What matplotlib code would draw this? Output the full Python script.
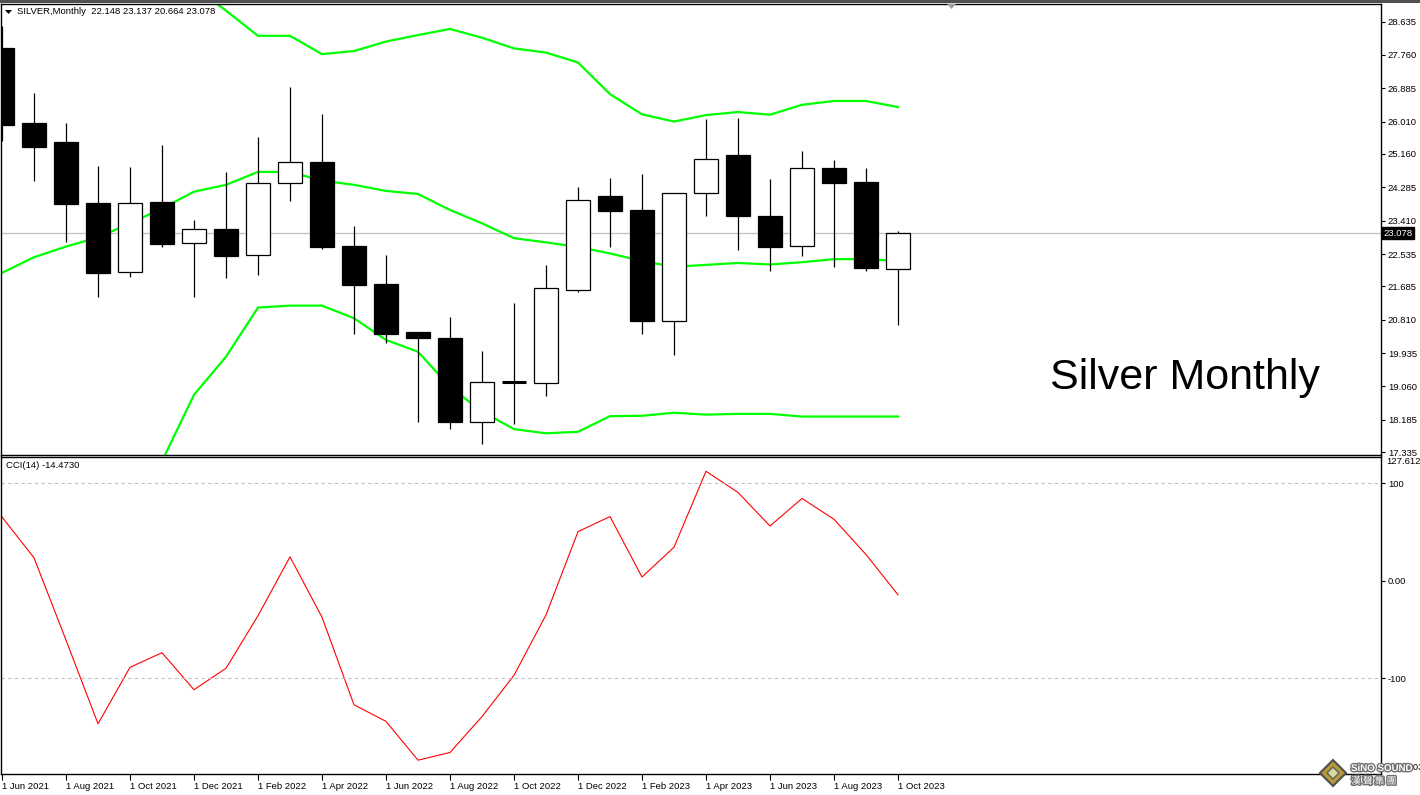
import matplotlib
matplotlib.use("Agg")  # no display
import matplotlib.pyplot as plt
from matplotlib.patches import Rectangle, Polygon
import matplotlib.patheffects as pe

plt.rcParams['font.family'] = ['Liberation Sans', 'DejaVu Sans']

# Monthly silver candles, Jun 2021 .. Oct 2023
opens = [27.94, 25.97, 25.47, 23.87, 22.05, 23.89, 22.82, 23.18, 22.50, 24.39,
         24.95, 22.75, 21.75, 20.49, 20.33, 18.12, 19.17, 19.16, 21.60, 24.07,
         23.68, 20.77, 24.13, 25.12, 23.52, 22.74, 24.78, 24.42, 22.148]
highs = [28.52, 26.76, 25.97, 24.84, 24.82, 25.39, 23.43, 24.69, 25.60, 26.92,
         26.21, 23.27, 22.51, 20.49, 20.88, 20.00, 21.25, 22.25, 24.29, 24.53,
         24.63, 24.13, 26.08, 26.11, 24.50, 25.24, 25.00, 24.79, 23.137]
lows = [25.50, 24.46, 22.86, 21.41, 21.94, 22.73, 21.41, 21.91, 21.99, 23.93,
        22.66, 20.44, 20.21, 18.13, 17.93, 17.56, 18.08, 18.81, 21.54, 22.73,
        20.43, 19.89, 23.54, 22.65, 22.10, 22.49, 22.19, 22.10, 20.664]
closes = [25.93, 25.35, 23.85, 22.04, 23.87, 22.81, 23.18, 22.49, 24.39, 24.95,
          22.73, 21.73, 20.44, 20.34, 18.12, 19.18, 19.17, 21.63, 23.94, 23.67,
          20.77, 24.13, 25.02, 23.54, 22.73, 24.78, 24.41, 22.18, 23.078]

# Bollinger bands
bb_upper = [30.50, 30.60, 30.50, 30.30, 30.10, 29.85, 29.54, 28.92, 28.26, 28.26,
            27.78, 27.86, 28.11, 28.28, 28.44, 28.21, 27.93, 27.82, 27.56, 26.73,
            26.20, 26.01, 26.18, 26.26, 26.19, 26.45, 26.55, 26.55, 26.39]
bb_mid = [22.04, 22.45, 22.73, 22.97, 23.34, 23.73, 24.17, 24.35, 24.69, 24.69,
          24.46, 24.35, 24.19, 24.11, 23.69, 23.34, 22.95, 22.84, 22.72, 22.55,
          22.35, 22.20, 22.25, 22.30, 22.26, 22.32, 22.40, 22.40, 22.35]
bb_lower = [12.00, 12.80, 13.50, 14.50, 15.50, 17.10, 18.84, 19.84, 21.13, 21.18,
            21.18, 20.85, 20.28, 19.97, 19.05, 18.40, 17.94, 17.83, 17.87, 18.28,
            18.29, 18.37, 18.32, 18.34, 18.34, 18.27, 18.27, 18.27, 18.27]

# CCI(14)
cci = [65.5, 23.5, -61, -147, -89, -74, -112, -90, -36, 24.5,
       -37.5, -127.5, -144.5, -184.4, -176.5, -139.6, -97.2, -35.2, 50.4, 65.9,
       3.8, 34.4, 112.4, 90.7, 56.2, 84.5, 63.1, 26.9, -14.473]

date_labels = ["1 Jun 2021", "1 Aug 2021", "1 Oct 2021", "1 Dec 2021", "1 Feb 2022",
               "1 Apr 2022", "1 Jun 2022", "1 Aug 2022", "1 Oct 2022", "1 Dec 2022",
               "1 Feb 2023", "1 Apr 2023", "1 Jun 2023", "1 Aug 2023", "1 Oct 2023"]
price_ticks = [28.635, 27.760, 26.885, 26.010, 25.160, 24.285, 23.410, 22.535,
               21.685, 20.810, 19.935, 19.060, 18.185, 17.335]
cci_ticks = [100, 0, -100]
cci_tick_labels = ["100", "0.00", "-100"]

W, H = 1420, 795
fig = plt.figure(figsize=(W / 100, H / 100), dpi=100)

def frac(px_left, px_top, px_right, px_bottom):
    return [px_left / W, 1 - px_bottom / H, (px_right - px_left) / W, (px_bottom - px_top) / H]

ax = fig.add_axes(frac(1, 3.5, 1381, 454.5))
ax2 = fig.add_axes(frac(1, 456.5, 1381, 774))

x = list(range(len(closes)))
xlim = (-1 / 32, 1379 / 32)

# --- price pane
ax.plot(x, bb_upper, color='#00ff00', lw=1.6, zorder=2)
ax.plot(x, bb_mid, color='#00ff00', lw=1.6, zorder=2)
ax.plot(x, bb_lower, color='#00ff00', lw=1.6, zorder=2)
ax.axhline(closes[-1], color='#c0c0c0', lw=0.9, zorder=1)

w = 0.74
for i, (o, h, l, c) in enumerate(zip(opens, highs, lows, closes)):
    ax.vlines(i, l, h, color='black', lw=0.9, zorder=3)
    if abs(c - o) < 0.02:
        ax.hlines(o, i - w / 2, i + w / 2, color='black', lw=2.2, zorder=4)
    elif c > o:
        ax.add_patch(Rectangle((i - w / 2, o), w, c - o, facecolor='white',
                               edgecolor='black', lw=0.9, zorder=4))
    else:
        ax.add_patch(Rectangle((i - w / 2, c), w, o - c, facecolor='black',
                               edgecolor='black', lw=0.9, zorder=4))

ax.set_xlim(*xlim)
ax.set_ylim(17.274, 29.108)
ax.set_xticks([])
ax.yaxis.tick_right()
ax.set_yticks(price_ticks)
ax.set_yticklabels([f"{v:.3f}" for v in price_ticks])
ax.tick_params(axis='y', length=3, width=0.8, pad=2, labelsize=6.8, colors='black')
for s in ax.spines.values():
    s.set_linewidth(1.0)
    s.set_color('black')

ax.text(1.0015, closes[-1], f"{closes[-1]:.3f}", transform=ax.get_yaxis_transform(),
        color='white', fontsize=6.8, va='center', ha='left',
        bbox=dict(boxstyle='square,pad=0.15', facecolor='black', edgecolor='black'),
        zorder=10, clip_on=False)

# --- CCI pane
ax2.plot(x, cci, color='#ff0000', lw=0.8)
for lvl in (100, -100):
    ax2.axhline(lvl, color='#c0c0c0', lw=0.8, ls=(0, (3, 3)))
ax2.set_xlim(*xlim)
ax2.set_ylim(-198.6, 127.61)
ax2.yaxis.tick_right()
ax2.set_yticks(cci_ticks)
ax2.set_yticklabels(cci_tick_labels)
ax2.tick_params(axis='y', length=3, width=0.8, pad=2, labelsize=6.8, colors='black')
ax2.set_xticks(range(0, len(closes), 2))
ax2.set_xticklabels(date_labels)
ax2.tick_params(axis='x', length=4, width=0.8, pad=1.5, labelsize=6.8)
for lbl in ax2.get_xticklabels():
    lbl.set_horizontalalignment('left')
for s in ax2.spines.values():
    s.set_linewidth(1.0)
    s.set_color('black')

ax2.text(1.004, 0.985, "127.6129", transform=ax2.transAxes, fontsize=6.8,
         va='center', ha='left', clip_on=False)
ax2.text(1.004, 0.02, "-198.6039", transform=ax2.transAxes, fontsize=6.8,
         va='center', ha='left', clip_on=False)

# --- header texts
fig.add_artist(Rectangle((0, 1 - 2.5 / H), 1, 2.5 / H, transform=fig.transFigure,
                         facecolor='#505050', edgecolor='none'))
fig.add_artist(Polygon([(947 / W, 1 - 4 / H), (956 / W, 1 - 4 / H), (951.5 / W, 1 - 9 / H)],
                       closed=True, transform=fig.transFigure, facecolor='#a0a0a0',
                       edgecolor='none'))
fig.add_artist(Polygon([(5 / W, 1 - 10 / H), (12 / W, 1 - 10 / H), (8.5 / W, 1 - 14 / H)],
                       closed=True, transform=fig.transFigure, facecolor='black',
                       edgecolor='none'))
fig.text(17 / W, 1 - 12 / H, "SILVER,Monthly  22.148 23.137 20.664 23.078",
         fontsize=6.8, va='center', ha='left')
fig.text(6 / W, 1 - 466 / H, "CCI(14) -14.4730", fontsize=6.8, va='center', ha='left')
fig.text(1050 / W, 1 - 378 / H, "Silver Monthly", fontsize=31, va='center', ha='left')

# --- watermark logo, bottom right
cx, cy, r = 1333, 773, 13
fig.add_artist(Polygon([((cx - r) / W, 1 - cy / H), (cx / W, 1 - (cy - r) / H),
                        ((cx + r) / W, 1 - cy / H), (cx / W, 1 - (cy + r) / H)],
                       closed=True, transform=fig.transFigure, facecolor='#b89a3a',
                       edgecolor='#505050', lw=1.5, zorder=20))
fig.add_artist(Polygon([((cx - 6) / W, 1 - cy / H), (cx / W, 1 - (cy - 6) / H),
                        ((cx + 6) / W, 1 - cy / H), (cx / W, 1 - (cy + 6) / H)],
                       closed=True, transform=fig.transFigure, facecolor='#d8d8a0',
                       edgecolor='#606060', lw=1, zorder=21))
halo = [pe.withStroke(linewidth=2, foreground='#707070')]
fig.text(1351 / W, 1 - 768 / H, "SiNO SOUND", fontsize=7, fontweight='bold',
         color='white', va='center', ha='left', path_effects=halo, zorder=22)
fig.text(1351 / W, 1 - 781 / H, "漢 聲 集 團", fontsize=7, color='white',
         family=['Noto Sans CJK TC', 'DejaVu Sans'], va='center', ha='left',
         path_effects=halo, zorder=22)

fig.savefig("out.png", dpi=100)
